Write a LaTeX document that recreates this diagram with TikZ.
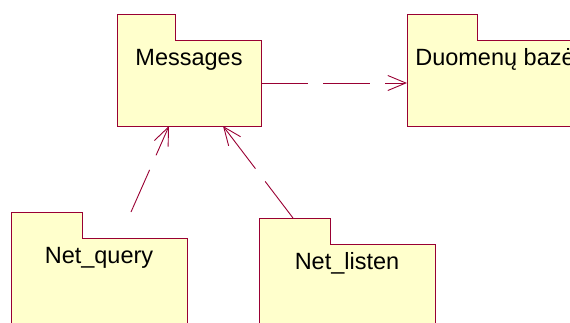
\documentclass[tikz,border=0pt]{standalone}
\usepackage{fontspec}
\setmainfont{Liberation Sans}
\usetikzlibrary{arrows.meta}
\definecolor{pkgline}{RGB}{153,0,51}
\definecolor{pkgfill}{RGB}{255,255,204}
\begin{document}
\begin{tikzpicture}[x=1pt,y=-1pt,
  pkgbody/.style={fill=pkgfill, inner sep=0pt, outer sep=0pt, anchor=north west},
  pkgoutline/.style={draw=pkgline, fill=pkgfill, line width=0.9pt},
  pkglabel/.style={anchor=base, inner sep=0pt, font=\fontsize{23.5}{28}\selectfont},
  dep/.style={draw=pkgline, line width=0.9pt, dash pattern=on 47pt off 15pt,
    -{Straight Barb[length=18pt,width=15pt]}}]
\useasboundingbox (0,0) rectangle (570,322);
\clip (0,0) rectangle (570,322);

% package body nodes (fill only); the folder outline is drawn on top
\node[pkgbody, minimum width=144pt, minimum height=86pt] (msg) at (117,40) {};
\node[pkgbody, minimum width=176pt, minimum height=86pt] (db) at (407,40) {};
\node[pkgbody, minimum width=176pt, minimum height=110pt] (nq) at (11,238) {};
\node[pkgbody, minimum width=176pt, minimum height=110pt] (nl) at (259,244) {};

% folder outlines: tab + body as one path
\path[pkgoutline] (msg.south west) -- ++(0,-112) -- ++(58,0) -- ++(0,26)
  -| (msg.south east) -- cycle;
\path[pkgoutline] (db.south west) -- ++(0,-112) -- ++(70,0) -- ++(0,26)
  -| (db.south east) -- cycle;
\path[pkgoutline] (nq.south west) -- ++(0,-136) -- ++(71,0) -- ++(0,26)
  -| (nq.south east) -- cycle;
\path[pkgoutline] (nl.south west) -- ++(0,-136) -- ++(71,0) -- ++(0,26)
  -| (nl.south east) -- cycle;

% package names
\node[pkglabel] (msgL) at ([yshift=-25pt]msg.north) {Messages};
\node[pkglabel] (dbL) at ([yshift=-25pt]db.north) {Duomenų bazė};
\node[pkglabel] (nqL) at ([yshift=-25pt]nq.north) {Net\_query};
\node[pkglabel] (nlL) at ([yshift=-25pt]nl.north) {Net\_listen};

% dependency end points
\coordinate (nqOut) at (131,212);
\coordinate (msgInA) at (169,126);
\coordinate (nlOut) at (293,218);
\coordinate (msgInB) at (223,126);

% dependencies
\draw[dep] (msg.east) -- (db.west);
\draw[dep, dash pattern=on 46pt off 16pt] (nqOut) -- (msgInA);
\draw[dep, dash pattern=on 46pt off 16pt on 80pt] (nlOut) -- (msgInB);
\end{tikzpicture}
\end{document}
